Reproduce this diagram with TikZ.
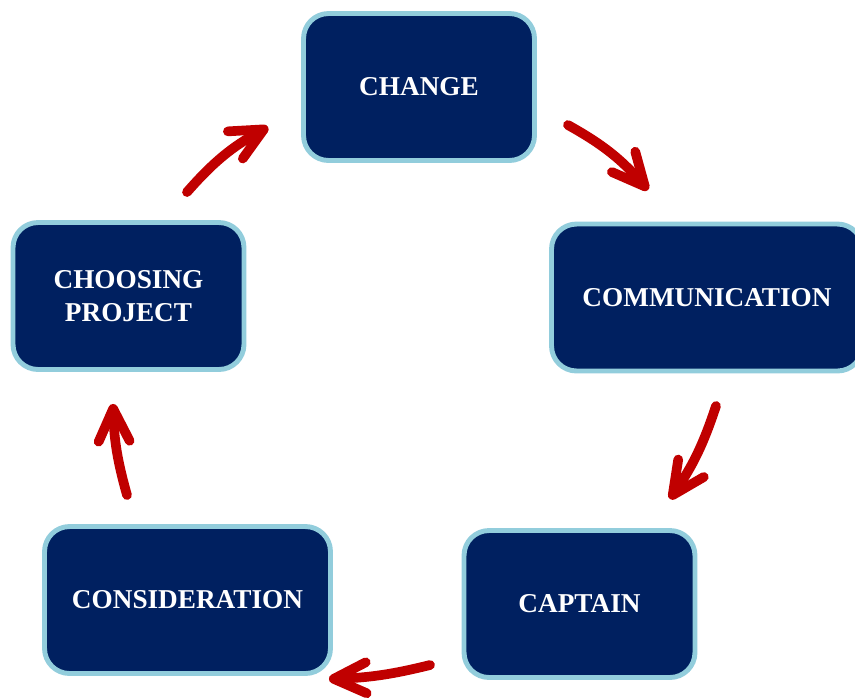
\documentclass[tikz,border=0pt]{standalone}
\usepackage{fontspec}
\setmainfont{Liberation Serif}
\usetikzlibrary{arrows.meta,positioning}
\definecolor{boxnavy}{RGB}{0,32,96}
\definecolor{boxedge}{RGB}{146,205,220}
\definecolor{arrowred}{RGB}{192,0,0}

\begin{document}
\begin{tikzpicture}[x=0.02cm,y=-0.02cm,
    stagebox/.style={draw=boxedge, fill=boxnavy, line width=2.8pt, rounded corners=0.5cm,
      minimum width=4.62cm, minimum height=2.94cm, inner sep=0pt, align=center,
      text=white, font=\fontsize{15.5}{18.6}\selectfont\bfseries},
    cyclearrow/.style={arrowred, line width=5.5pt, line cap=round,
      -{Straight Barb[length=0.65cm,width=0.62cm,round]}}]
        % page frame
        \clip (0,0) rectangle (855,698);
        % the five stages
        \node[stagebox] (change) at (419,87) {CHANGE};
        \node[stagebox, minimum width=6.22cm] (comm) at (707,297.5) {COMMUNICATION};
        \node[stagebox] (captain) at (579.5,604) {CAPTAIN};
        \node[stagebox, minimum width=5.72cm] (consid) at (187.5,600) {CONSIDERATION};
        \node[stagebox] (choosing) at (128.5,296) {CHOOSING\\PROJECT};
        % curved arrows round the cycle
        \draw[cyclearrow] ([shift={(31,38)}]change.east) to[bend left=10] ([shift={(-59,-31.5)}]comm.north);
        \draw[cyclearrow] ([shift={(9,32.5)}]comm.south) to[bend left=8] ([shift={(90.5,-29)}]captain.north);
        \draw[cyclearrow] ([shift={(-31.5,61)}]captain.west) to[bend left=6] ([shift={(-4,79)}]consid.east);
        \draw[cyclearrow] ([shift={(-60.5,-29)}]consid.north) to[bend left=7] ([shift={(-15.5,32)}]choosing.south);
        \draw[cyclearrow] ([shift={(58.5,-28)}]choosing.north) to[bend left=10] ([shift={(-33,40)}]change.west);
    \end{tikzpicture}
\end{document}
